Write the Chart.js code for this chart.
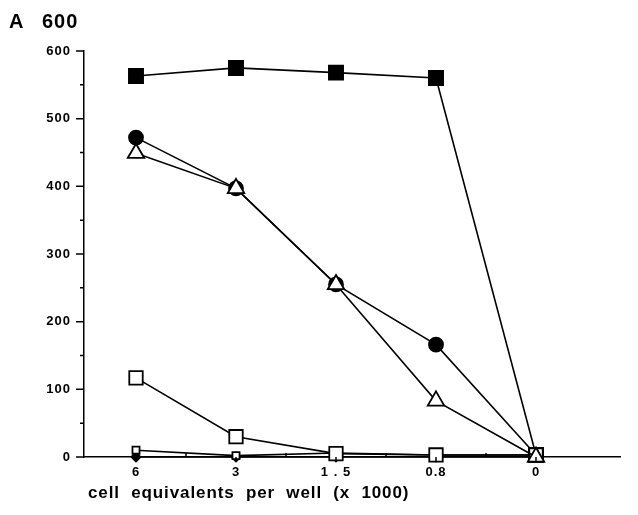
<!DOCTYPE html>
<html>
<head>
<meta charset="utf-8">
<script src="https://cdn.jsdelivr.net/npm/chart.js@4"></script>
<style>
  body { margin: 0; background: #fff; }
  canvas { display: block; }
</style>
</head>
<body>
<canvas id="chart" width="638" height="515"></canvas>
<script>
// x categories (cell equivalents per well, x 1000)
var cellLabels = ["6", "3", "1 . 5", "0.8", "0"];

// series values
var filledSquares = [563, 575, 568, 560, 3];
var filledCircles = [472, 397, 255, 166, 3];
var openTriangles = [449, 397, 255, 83, 0];
var openSquares = [117, 30, 5, 3, 3];
var smallOpenSquares = [10, 2, 6, 3, 3];
var smallFilled = [0, 0, 0, 0, 0];

var yTicks = [0, 100, 200, 300, 400, 500, 600];

var FONT = "'Liberation Sans', Arial, sans-serif";

function pts(arr) {
  return arr.map(function (v, i) { return { x: i, y: v }; });
}

function series(values, style, radius, fill, order) {
  return {
    data: pts(values),
    borderColor: "#000",
    borderWidth: 1.6,
    pointStyle: style,
    pointRadius: radius,
    pointBackgroundColor: fill,
    pointBorderColor: "#000",
    pointBorderWidth: 1.8,
    tension: 0,
    clip: false,
    order: order,
  };
}

// wider letters like the typewriter-ish original
var spacing = {
  id: "spacing",
  beforeLayout: function (chart) { chart.ctx.letterSpacing = "1px"; },
  beforeDraw: function (chart) { chart.ctx.letterSpacing = "1px"; },
};

// extra ticks and the hand-lettered texts
var axisDecor = {
  id: "axisDecor",
  afterDraw: function (chart) {
    var ctx = chart.ctx;
    var x = chart.scales.x, y = chart.scales.y;
    var left = chart.chartArea.left, bottom = chart.chartArea.bottom;
    ctx.save();
    ctx.strokeStyle = "#000";
    ctx.lineWidth = 1.5;
    ctx.beginPath();
    for (var v = 0; v <= 600; v += 50) {
      var py = y.getPixelForValue(v);
      var len = v % 100 === 0 ? 8 : 4;
      ctx.moveTo(left - len, py);
      ctx.lineTo(left, py);
    }
    for (var i = 0; i < cellLabels.length; i++) {
      var px = x.getPixelForValue(i);
      ctx.moveTo(px, bottom);
      ctx.lineTo(px, bottom + 5);
      var mx = x.getPixelForValue(i + 0.5);
      if (i < cellLabels.length - 1) {
        ctx.moveTo(mx, bottom);
        ctx.lineTo(mx, bottom - 4);
      }
    }
    ctx.stroke();

    ctx.fillStyle = "#000";
    ctx.textBaseline = "alphabetic";
    ctx.letterSpacing = "1px";
    ctx.font = "bold 20px " + FONT;
    ctx.fillText("A", 9, 28);
    ctx.fillText("600", 42, 28);
    ctx.letterSpacing = "0.9px";
    ctx.font = "bold 17px " + FONT;
    ctx.fillText("cell  equivalents  per  well  (x  1000)", 88, 498);
    ctx.restore();
  },
};

var chart = new Chart(document.getElementById("chart").getContext("2d"), {
  type: "line",
  data: {
    datasets: [
      series(filledSquares, "rect", 10, "#000", 3),
      series(filledCircles, "circle", 7, "#000", 2),
      series(openTriangles, "triangle", 9.5, "#fff", 0),
      series(openSquares, "rect", 9.5, "#fff", 1),
      series(smallOpenSquares, "rect", 5, "#fff", 4),
      series(smallFilled, "rectRot", 4.5, "#000", 5),
    ],
  },
  options: {
    responsive: false,
    animation: false,
    layout: { padding: { top: 51, right: 18, left: 0, bottom: 0 } },
    plugins: {
      legend: { display: false },
      tooltip: { enabled: false },
    },
    scales: {
      x: {
        type: "linear",
        min: -0.52,
        max: 4.84,
        afterFit: function (s) { s.height = 58; },
        afterBuildTicks: function (s) {
          s.ticks = cellLabels.map(function (_, i) { return { value: i }; });
        },
        ticks: {
          padding: 8,
          color: "#000",
          font: { family: FONT, size: 13, weight: "bold" },
          callback: function (v) { return cellLabels[v]; },
          maxRotation: 0,
        },
        grid: { display: false, drawTicks: false },
        border: { display: true, color: "#000", width: 1.5 },
      },
      y: {
        min: 0,
        max: 600,
        afterFit: function (s) { s.width = 84; },
        afterBuildTicks: function (s) {
          s.ticks = yTicks.map(function (v) { return { value: v }; });
        },
        ticks: {
          padding: 13,
          color: "#000",
          font: { family: FONT, size: 13, weight: "bold" },
        },
        grid: { display: false, drawTicks: false },
        border: { display: true, color: "#000", width: 1.5 },
      },
    },
  },
  plugins: [spacing, axisDecor],
});
</script>
</body>
</html>
